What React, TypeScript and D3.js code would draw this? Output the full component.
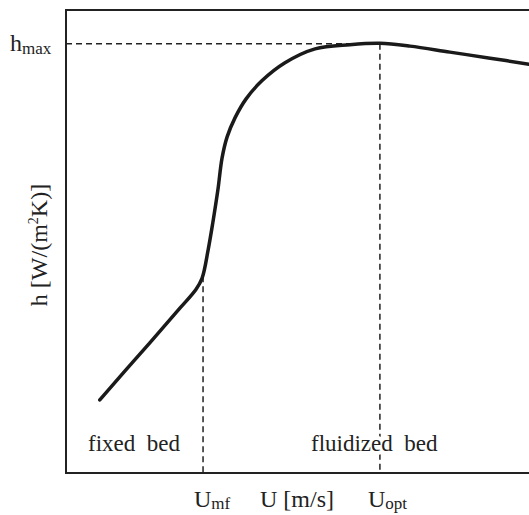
import React from "react";
import * as d3 from "d3";

const W = 529;
const H = 515;

// curve points in abstract units (U, h), both 0..100
const curveU = [7.3, 12.7, 18.1, 24.6, 28.1, 29.4, 30.7, 31.7, 32.8, 33.7, 34.8, 36.5, 38.9, 42.3, 47.3, 53.8, 61.3, 67.8, 74.3, 82.9, 91.6, 100];
const curveH = [15.8, 22.0, 28.1, 35.6, 39.7, 42.1, 48.2, 54.0, 61.1, 68.0, 72.6, 76.7, 80.8, 84.7, 88.6, 91.6, 92.5, 92.8, 92.2, 90.9, 89.6, 88.3];

const Umf = 29.6;
const Uopt = 67.8;
const hMax = 92.7;
const hAtUmf = 42.5;

export default function App() {
  const x = d3.scaleLinear().domain([0, 100]).range([66, 529]);
  const y = d3.scaleLinear().domain([0, 100]).range([473, 10]);

  const pts: [number, number][] = curveU.map((u, i) => [u, curveH[i]]);
  const line = d3
    .line<[number, number]>()
    .x((d) => x(d[0]))
    .y((d) => y(d[1]))
    .curve(d3.curveCatmullRom.alpha(0.5));

  const font = "'Liberation Serif', 'Times New Roman', serif";
  const dash = "6,4";

  return (
    <svg width={W} height={H} style={{ position: "absolute", left: 0, top: 0 }} fontFamily={font}>
      <rect x={0} y={0} width={W} height={H} fill="#fff" />
      {/* frame */}
      <path
        d={`M${x(100) + 5},${y(100)} L${x(0)},${y(100)} L${x(0)},${y(0)} L${x(100) + 5},${y(0)}`}
        fill="none"
        stroke="#222"
        strokeWidth={2}
      />
      {/* dashed guides */}
      <line x1={x(0)} x2={x(Uopt)} y1={y(hMax)} y2={y(hMax)} stroke="#222" strokeWidth={1.5} strokeDasharray={dash} />
      <line x1={x(Umf)} x2={x(Umf)} y1={y(hAtUmf)} y2={y(0)} stroke="#222" strokeWidth={1.5} strokeDasharray={dash} />
      <line x1={x(Uopt)} x2={x(Uopt)} y1={y(hMax)} y2={y(0)} stroke="#222" strokeWidth={1.5} strokeDasharray={dash} />
      {/* curve */}
      <path d={line(pts) || ""} fill="none" stroke="#1a1a1a" strokeWidth={3.5} strokeLinecap="round" />
      {/* region labels */}
      <text x={88} y={451} fontSize={23} fill="#222" style={{ whiteSpace: "pre" }}>
        {"fixed  bed"}
      </text>
      <text
        x={311}
        y={451}
        fontSize={23}
        fill="#222"
        stroke="#fff"
        strokeWidth={8}
        style={{ whiteSpace: "pre", paintOrder: "stroke" }}
      >
        {"fluidized  bed"}
      </text>
      {/* hmax */}
      <text x={10} y={51} fontSize={24} fill="#222">
        h<tspan fontSize={17} dy={3}>max</tspan>
      </text>
      {/* x labels */}
      <text x={194} y={507} fontSize={24} fill="#222">
        U<tspan fontSize={17} dy={2}>mf</tspan>
      </text>
      <text x={260} y={507} fontSize={24} fill="#222" style={{ whiteSpace: "pre" }}>
        {"U [m/s]"}
      </text>
      <text x={368} y={507} fontSize={24} fill="#222">
        U<tspan fontSize={17} dy={2}>opt</tspan>
      </text>
      {/* y label */}
      <text transform={`translate(47,245) rotate(-90)`} textAnchor="middle" fontSize={24} fill="#222">
        h [W/(m<tspan fontSize={14} dy={-9}>2</tspan>
        <tspan dy={9}>K)]</tspan>
      </text>
    </svg>
  );
}
